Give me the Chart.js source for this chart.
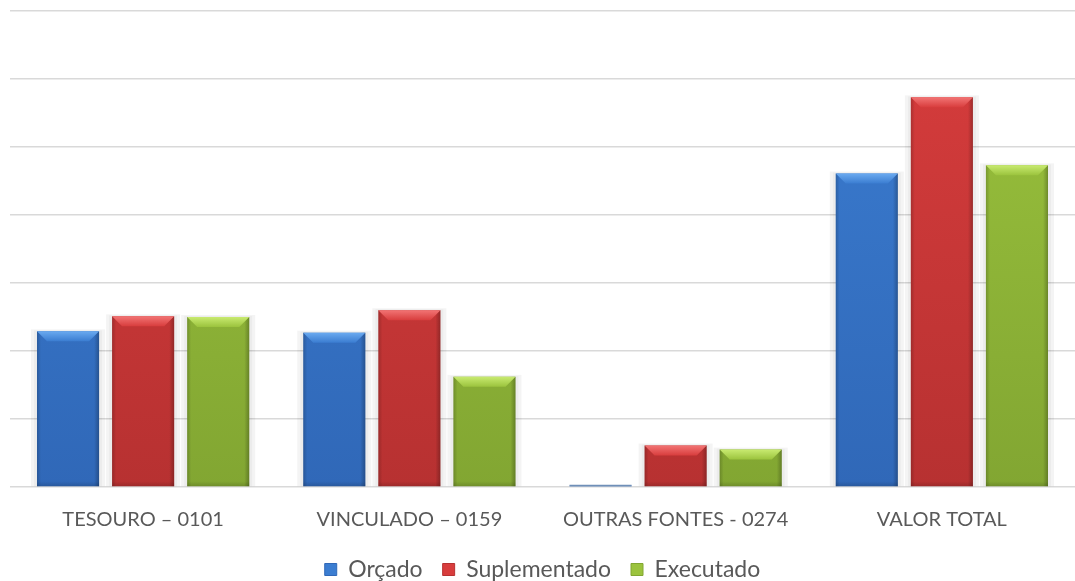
<!DOCTYPE html>
<html>
<head>
<meta charset="utf-8">
<script src="https://cdn.jsdelivr.net/npm/chart.js@4.4.1/dist/chart.umd.min.js"></script>
<style>
  html, body { margin: 0; padding: 0; background: #ffffff; }
  #wrap { width: 1075px; height: 581px; position: relative; }
</style>
</head>
<body>
<div id="wrap"><canvas id="chart"></canvas></div>
<script>
// Budget sources and the three stages of each budget
const categories = ['TESOURO – 0101', 'VINCULADO – 0159', 'OUTRAS FONTES - 0274', 'VALOR TOTAL'];
const seriesNames = ['Orçado', 'Suplementado', 'Executado'];
const orcado       = [2.29, 2.27, 0.02, 4.61];
const suplementado = [2.51, 2.60, 0.61, 5.73];
const executado    = [2.50, 1.62, 0.55, 4.73];
const axisMax = 7;

const palette = [
  { base: '#3b7dd1', light: '#6aaaf0', dark: '#3068b8' },
  { base: '#d83d3d', light: '#f27474', dark: '#b73131' },
  { base: '#9bc33d', light: '#c8ea70', dark: '#82a632' }
];

// Soft halo behind each bar and a bevel (light top, shaded sides) on top of it
const bevelPlugin = {
  id: 'bevel',
  beforeDatasetsDraw(chart) {
    const ctx = chart.ctx;
    chart.data.datasets.forEach((ds, i) => {
      chart.getDatasetMeta(i).data.forEach(bar => {
        const w = bar.width, x0 = bar.x - w / 2, y0 = bar.y, h = bar.base - bar.y;
        if (h < 1) return;
        ctx.save();
        ctx.fillStyle = 'rgba(0,0,0,0.045)';
        ctx.fillRect(x0 - 6, y0 - 2, w + 12, h + 2);
        ctx.fillStyle = 'rgba(0,0,0,0.035)';
        ctx.fillRect(x0 - 3, y0 - 1, w + 6, h + 1);
        ctx.restore();
      });
    });
  },
  afterDatasetsDraw(chart) {
    const ctx = chart.ctx;
    chart.data.datasets.forEach((ds, i) => {
      const col = palette[i];
      chart.getDatasetMeta(i).data.forEach(bar => {
        const w = bar.width, x0 = bar.x - w / 2, x1 = bar.x + w / 2, y0 = bar.y, yb = bar.base;
        const h = yb - y0;
        if (h < 3) {
          ctx.save();
          ctx.fillStyle = '#6f8fb8';
          ctx.fillRect(x0, yb - 1.5, w, 1.5);
          ctx.restore();
          return;
        }
        const b = Math.min(10, h / 2);
        ctx.save();
        // left and right shaded edges
        let g = ctx.createLinearGradient(x0, 0, x0 + 4, 0);
        g.addColorStop(0, 'rgba(0,0,0,0.18)');
        g.addColorStop(1, 'rgba(0,0,0,0)');
        ctx.fillStyle = g;
        ctx.fillRect(x0, y0, 4, h);
        g = ctx.createLinearGradient(x1 - 5, 0, x1, 0);
        g.addColorStop(0, 'rgba(0,0,0,0)');
        g.addColorStop(1, 'rgba(0,0,0,0.25)');
        ctx.fillStyle = g;
        ctx.fillRect(x1 - 5, y0, 5, h);
        // darker bottom band
        g = ctx.createLinearGradient(0, yb - 5, 0, yb);
        g.addColorStop(0, 'rgba(0,0,0,0)');
        g.addColorStop(1, 'rgba(0,0,0,0.15)');
        ctx.fillStyle = g;
        ctx.fillRect(x0, yb - 5, w, 5);
        // bevelled top
        ctx.beginPath();
        ctx.moveTo(x0, y0);
        ctx.lineTo(x1, y0);
        ctx.lineTo(x1 - b, y0 + b);
        ctx.lineTo(x0 + b, y0 + b);
        ctx.closePath();
        g = ctx.createLinearGradient(0, y0, 0, y0 + b);
        g.addColorStop(0, col.light);
        g.addColorStop(1, col.base);
        ctx.fillStyle = g;
        ctx.fill();
        ctx.restore();
      });
    });
  }
};

function fillFor(i) {
  return (c) => {
    const area = c.chart.chartArea;
    if (!area) return palette[i].base;
    const g = c.chart.ctx.createLinearGradient(0, area.top, 0, area.bottom);
    g.addColorStop(0, palette[i].base);
    g.addColorStop(1, palette[i].dark);
    return g;
  };
}

const values = [orcado, suplementado, executado];
const datasets = seriesNames.map((name, i) => ({
  label: name,
  data: values[i],
  backgroundColor: fillFor(i),
  borderWidth: 0,
  categoryPercentage: 0.846,
  barPercentage: 0.827
}));

new Chart(document.getElementById('chart'), {
  type: 'bar',
  data: { labels: categories, datasets },
  plugins: [bevelPlugin],
  options: {
    responsive: true,
    maintainAspectRatio: false,
    animation: false,
    layout: { padding: { left: 10, right: 0, top: 11, bottom: -10 } },
    scales: {
      x: {
        grid: { display: false },
        border: { display: false },
        ticks: { color: '#595959', font: { family: 'Lato', size: 20 }, padding: 13, maxRotation: 0 },
        afterFit(scale) { scale.height -= 7; }
      },
      y: {
        min: 0, max: axisMax,
        ticks: { display: false, stepSize: 1 },
        border: { display: false },
        grid: { color: '#d9d9d9', lineWidth: 1.5, drawTicks: false }
      }
    },
    plugins: {
      tooltip: { enabled: false },
      legend: {
        position: 'bottom',
        labels: {
          color: '#595959',
          font: { family: 'Lato', size: 23 },
          boxWidth: 12, boxHeight: 12,
          padding: 20,
          generateLabels(chart) {
            return seriesNames.map((n, i) => ({
              text: n, fillStyle: palette[i].base, strokeStyle: palette[i].dark,
              lineWidth: 1, datasetIndex: i, hidden: false, fontColor: '#595959'
            }));
          }
        }
      }
    }
  }
});
</script>
</body>
</html>
